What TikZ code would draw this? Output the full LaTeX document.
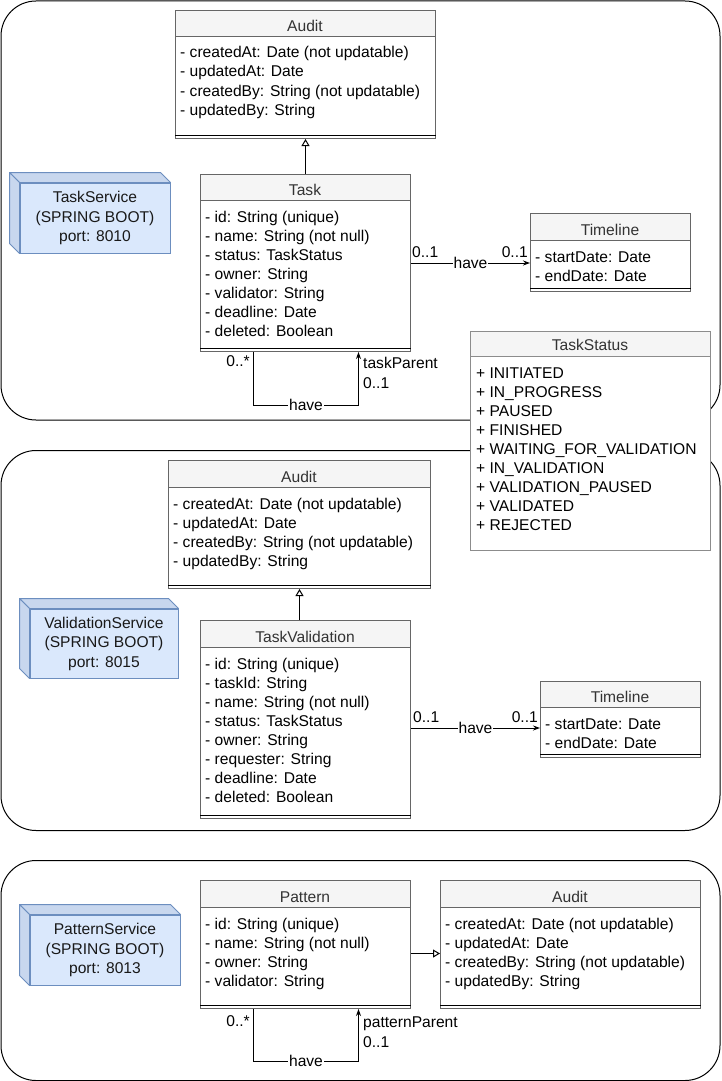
\documentclass[tikz,border=0pt]{standalone}
\usepackage{fontspec}
\setmainfont{Liberation Sans}
\usetikzlibrary{arrows.meta}
\definecolor{boxgray}{HTML}{666666}
\definecolor{listgray}{HTML}{8C8C8C}
\definecolor{hdrfill}{HTML}{F5F5F5}
\definecolor{hdrtext}{HTML}{333333}
\definecolor{cubefill}{HTML}{DAE8FC}
\definecolor{cubeside}{HTML}{C8D7EE}
\definecolor{cubeline}{HTML}{6C8EBF}
\newcommand\umlclass[8]{%
  \node[clsbox, minimum width=#4pt, minimum height=#5pt] (#1) at (#2,#3) {};
  \node[hdrbox, minimum width=#4pt, minimum height=#6pt] (#1h) at (#2,#3) {};
  \node[titletext] (#1t) at ({#2+#4/2},{#3+#6-4.5}) {#7};
  \foreach \s [count=\i] in {#8} \node[attr] (#1-\i) at ({#2+5},{#3+#6+22+19*(\i-1)}) {\s};
  \draw[sepline] ([yshift=4pt]#1.south west) -- ([yshift=4pt]#1.south east);
}
\begin{document}
\begin{tikzpicture}[x=1pt,y=-1pt, font=\fontsize{15.6}{19}\selectfont,
  container/.style={draw=black, line width=1pt, rounded corners=35pt, anchor=north west, inner sep=0pt},
  clsbox/.style={draw=boxgray, fill=white, line width=1pt, anchor=north west, inner sep=0pt},
  hdrbox/.style={draw=boxgray, fill=hdrfill, line width=1pt, anchor=north west, inner sep=0pt},
  titletext/.style={anchor=base, inner sep=0pt, text=hdrtext},
  attr/.style={anchor=base west, inner sep=0pt},
  sepline/.style={draw=black, line width=1pt},
  gen/.style={draw=black, line width=1pt, -{Triangle[open, fill=white, length=7pt, width=8pt]}},
  assoc/.style={draw=black, line width=1pt, -{Stealth[length=7pt, width=5pt]}},
  plainline/.style={draw=black, line width=1pt},
  lbl/.style={inner sep=0pt},
  havelbl/.style={fill=white, inner sep=1pt},
  cubefront/.style={draw=cubeline, fill=cubefill, line width=1pt, inner sep=0pt, align=center, font=\fontsize{15.6}{19.5}\selectfont, text=black!90},
  cubeface/.style={draw=cubeline, fill=cubeside, line width=1pt, line join=round}]

\useasboundingbox (0,0) rectangle (721,1081);
\fill[white] (0,0) rectangle (721,1081);

% containers
\node[container, minimum width=719pt, minimum height=419pt] (svc1) at (0.5,0.5) {};
\node[container, minimum width=719pt, minimum height=380pt] (svc2) at (0.5,450) {};
\node[container, minimum width=719pt, minimum height=220pt] (svc3) at (0.5,860) {};

% ===== Task service =====
\umlclass{auditA}{175}{10}{260}{128}{26}{Audit}{- createdAt: Date (not updatable),- updatedAt: Date,- createdBy: String (not updatable),- updatedBy: String}
\umlclass{task}{200}{174}{210}{177}{26}{Task}{- id: String (unique),- name: String (not null),- status: TaskStatus,- owner: String,- validator: String,- deadline: Date,- deleted: Boolean}
\umlclass{tlA}{530}{213}{160}{78}{27}{Timeline}{- startDate: Date,- endDate: Date}

\node[cubefront, minimum width=150pt, minimum height=70pt] (tsvc) at (95,218) {TaskService\\(SPRING BOOT)\\port: 8010};
\path[cubeface] (tsvc.north west) -- ++(-10,-10) -- ([xshift=-10pt,yshift=10pt]tsvc.north east) -- (tsvc.north east) -- cycle;
\path[cubeface] (tsvc.north west) -- ++(-10,-10) -- ([xshift=-10pt,yshift=10pt]tsvc.south west) -- (tsvc.south west) -- cycle;

\draw[gen] (task.north) -- (auditA.south);
\draw[assoc] (task.east) -- (task.east -| tlA.west) node[havelbl, pos=0.5] (haveA) {have};
\node[lbl, anchor=base west] (mA1) at (412,257) {0..1};
\node[lbl, anchor=base east] (mA2) at (528,257) {0..1};

\draw[assoc] ([xshift=-52pt]task.south) -- ++(0,53) -| ([xshift=53pt]task.south) node[havelbl, pos=0.25] (haveB) {have};
\node[lbl, anchor=base east] (mB1) at (250,366) {0..*};
\node[lbl, anchor=base west] (mB2) at (363,368) {taskParent};
\node[lbl, anchor=base west] (mB3) at (363,388) {0..1};

% ===== Validation service =====
\umlclass{auditB}{168}{460}{262}{128}{27}{Audit}{- createdAt: Date (not updatable),- updatedAt: Date,- createdBy: String (not updatable),- updatedBy: String}
\umlclass{tv}{200}{620}{210}{198}{27}{TaskValidation}{- id: String (unique),- taskId: String,- name: String (not null),- status: TaskStatus,- owner: String,- requester: String,- deadline: Date,- deleted: Boolean}
\umlclass{tlB}{540}{681}{160}{76}{26}{Timeline}{- startDate: Date,- endDate: Date}

\node[cubefront, minimum width=148pt, minimum height=69pt] (vsvc) at (104,643.5) {ValidationService\\(SPRING BOOT)\\port: 8015};
\path[cubeface] (vsvc.north west) -- ++(-10,-10) -- ([xshift=-10pt,yshift=10pt]vsvc.north east) -- (vsvc.north east) -- cycle;
\path[cubeface] (vsvc.north west) -- ++(-10,-10) -- ([xshift=-10pt,yshift=10pt]vsvc.south west) -- (vsvc.south west) -- cycle;

\draw[gen] (auditB.south |- tv.north) -- (auditB.south);
\draw[assoc] ([yshift=-8.5pt]tv.east) -- ([yshift=-8.5pt]tv.east -| tlB.west) node[havelbl, pos=0.5] (haveC) {have};
\node[lbl, anchor=base west] (mC1) at (413,722) {0..1};
\node[lbl, anchor=base east] (mC2) at (538,722) {0..1};

% ===== Pattern service =====
\umlclass{pattern}{200}{880}{210}{128}{27}{Pattern}{- id: String (unique),- name: String (not null),- owner: String,- validator: String}
\umlclass{auditC}{440}{880}{260}{128}{27}{Audit}{- createdAt: Date (not updatable),- updatedAt: Date,- createdBy: String (not updatable),- updatedBy: String}

\node[cubefront, minimum width=150pt, minimum height=70pt] (psvc) at (105,950) {PatternService\\(SPRING BOOT)\\port: 8013};
\path[cubeface] (psvc.north west) -- ++(-10,-10) -- ([xshift=-10pt,yshift=10pt]psvc.north east) -- (psvc.north east) -- cycle;
\path[cubeface] (psvc.north west) -- ++(-10,-10) -- ([xshift=-10pt,yshift=10pt]psvc.south west) -- (psvc.south west) -- cycle;

\draw[gen] ([yshift=-9pt]pattern.east) -- ([yshift=-9pt]pattern.east -| auditC.west);
\draw[assoc] ([xshift=-52pt]pattern.south) -- ++(0,52) -| ([xshift=53pt]pattern.south) node[havelbl, pos=0.25] (haveD) {have};
\node[lbl, anchor=base east] (mD1) at (250,1026) {0..*};
\node[lbl, anchor=base west] (mD2) at (363,1027) {patternParent};
\node[lbl, anchor=base west] (mD3) at (363,1047) {0..1};

% ===== TaskStatus enumeration (over the containers) =====
\node[clsbox, draw=listgray, minimum width=240pt, minimum height=219pt] (status) at (470,331) {};
\node[hdrbox, draw=listgray, minimum width=240pt, minimum height=25pt] (statush) at (470,331) {};
\node[titletext] (statust) at (590,350) {TaskStatus};
\foreach \s [count=\i] in {+ INITIATED,+ IN\_PROGRESS,+ PAUSED,+ FINISHED,+ WAITING\_FOR\_VALIDATION,+ IN\_VALIDATION,+ VALIDATION\_PAUSED,+ VALIDATED,+ REJECTED}
  \node[attr] (status-\i) at (476,{378+19*(\i-1)}) {\s};
\end{tikzpicture}
\end{document}
